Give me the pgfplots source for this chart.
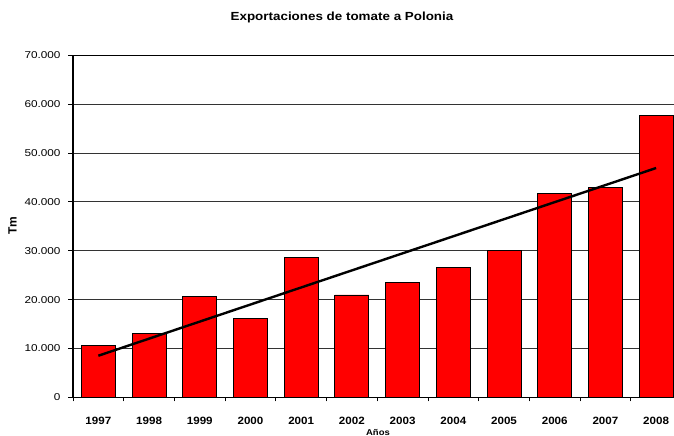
\documentclass[border=0pt]{standalone}
\usepackage{pgfplots}
\pgfplotsset{compat=1.18}
\usepackage{fontspec}
\setmainfont{Liberation Sans}
\usepackage{graphicx}
\newcommand{\sx}[2][1.18]{\scalebox{#1}[1]{#2}}
\newcommand{\xl}[1]{\scalebox{1.1}[1]{#1}}
\begin{document}
\begin{tikzpicture}[x=1bp,y=1bp]
\begin{axis}[
  at={(73bp,38.7bp)}, anchor=south west,
  scale only axis, width=608.5bp, height=342bp,
  xmin=-0.5, xmax=11.5, ymin=0, ymax=70000,
  scaled y ticks=false,
  axis x line*=box, axis y line*=left,
  axis line style={black, line width=1.2bp},
  xtick={0,...,11},
  xticklabels={\xl{1997},\xl{1998},\xl{1999},\xl{2000},\xl{2001},\xl{2002},\xl{2003},\xl{2004},\xl{2005},\xl{2006},\xl{2007},\xl{2008}},
  minor xtick={-0.5,0.5,...,11.5},
  xtick pos=bottom,
  tick align=outside,
  major x tick style={draw=none},
  minor x tick style={black, line width=0.8bp},
  minor tick length=4bp,
  major tick length=5bp,
  ytick={0,10000,...,70000},
  yticklabels={\sx{0},\sx{10.000},\sx{20.000},\sx{30.000},\sx{40.000},\sx{50.000},\sx{60.000},\sx{70.000}},
  ytick pos=left,
  y tick style={black, line width=0.8bp},
  ymajorgrids,
  major grid style={black!80, line width=0.8bp},
  xticklabel style={font=\bfseries\fontsize{10.6}{12}\selectfont, anchor=base, yshift=-22bp},
  yticklabel style={font=\fontsize{10}{12}\selectfont, anchor=east, xshift=-4bp},
  clip=false,
]
\addplot[ybar, bar width=34bp, fill=red, draw=black, line width=0.8bp]
  coordinates {(0,10640) (1,13100) (2,20600) (3,16200) (4,28700) (5,20950)
               (6,23550) (7,26500) (8,30000) (9,41750) (10,43000) (11,57600)};
\addplot[sharp plot, black, line width=2.4bp, no marks]
  coordinates {(0,8510) (11,46930)};
\end{axis}
\node[anchor=base, font=\bfseries\fontsize{11.8}{13}\selectfont] at (342bp,415.3bp) {\sx[1.14]{Exportaciones de tomate a Polonia}};
\node[rotate=90, font=\bfseries\fontsize{12}{14}\selectfont] at (12.5bp,210bp) {Tm};
\node[anchor=base, font=\bfseries\fontsize{8.5}{10}\selectfont] at (378bp,1bp) {\sx[1.12]{Años}};
\pgfresetboundingbox
\path[use as bounding box] (0,0) rectangle (674bp,436bp);
\end{tikzpicture}
\end{document}
